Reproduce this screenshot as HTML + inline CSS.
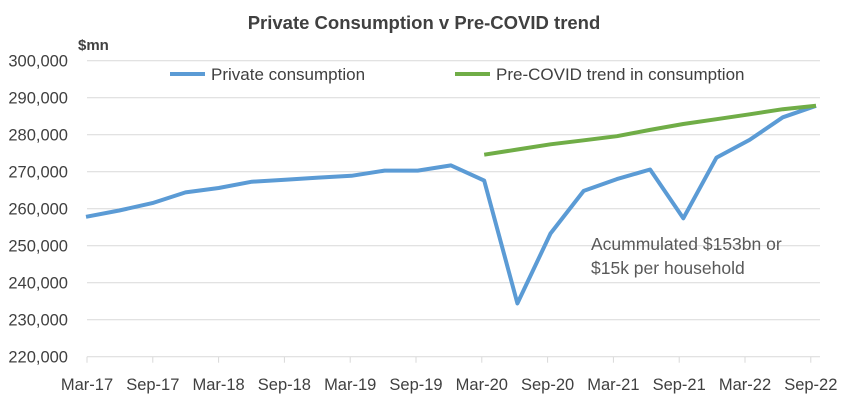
<!DOCTYPE html>
<html><head><meta charset="utf-8"><style>
body{margin:0;background:#fff;}
svg{display:block;font-family:"Liberation Sans",sans-serif;}
</style></head><body>
<svg id="chart" width="844" height="403">
<text x="424" y="29" text-anchor="middle" font-size="18.5" font-weight="bold" fill="#404040">Private Consumption v Pre-COVID trend</text>
<text x="78" y="50" font-size="15" font-weight="bold" fill="#404040">$mn</text>
<g id="grid"></g><g id="yticks"></g><g id="xticks"></g><g id="series"></g>
<g>
<line x1="170" y1="74" x2="205" y2="74" stroke="#5b9bd5" stroke-width="4"/>
<text x="211" y="80" font-size="17" fill="#404040">Private consumption</text>
<line x1="455" y1="74" x2="490" y2="74" stroke="#70ad47" stroke-width="4"/>
<text x="496" y="80" font-size="17" fill="#404040">Pre-COVID trend in consumption</text>
</g>
<text x="591" y="250" font-size="17.5" fill="#595959">Acummulated $153bn or</text>
<text x="591" y="274" font-size="17.5" fill="#595959">$15k per household</text>
</svg>
<script>
const quarters=["Mar-17","Jun-17","Sep-17","Dec-17","Mar-18","Jun-18","Sep-18","Dec-18","Mar-19","Jun-19","Sep-19","Dec-19","Mar-20","Jun-20","Sep-20","Dec-20","Mar-21","Jun-21","Sep-21","Dec-21","Mar-22","Jun-22","Sep-22"];
const privateConsumption=[257800,259500,261500,264400,265600,267300,267800,268400,268900,270300,270300,271700,267600,234400,253300,264800,268000,270600,257400,273800,278600,284700,287800];
const preCovidTrend=[null,null,null,null,null,null,null,null,null,null,null,null,274600,276000,277400,278500,279600,281300,282900,284200,285500,286900,287800];
const xLabels=["Mar-17","Sep-17","Mar-18","Sep-18","Mar-19","Sep-19","Mar-20","Sep-20","Mar-21","Sep-21","Mar-22","Sep-22"];
const yTicks=[220000,230000,240000,250000,260000,270000,280000,290000,300000];
const NS="http://www.w3.org/2000/svg";
function y(v){return 356.7-(v-220000)/10000*37;}
function x(i){return 86+i*(730/22);}
function tx(j){return 87+j*65.8;}
function mk(t,p,a){const e=document.createElementNS(NS,t);for(const k in a)e.setAttribute(k,a[k]);p.appendChild(e);return e;}
const grid=document.getElementById('grid'),yt=document.getElementById('yticks'),xt=document.getElementById('xticks'),se=document.getElementById('series');
yTicks.forEach(v=>{
  if(v>220000){const l=mk('line',grid,{x1:87,x2:820,y1:y(v),y2:y(v),stroke:'#d9d9d9','stroke-width':1});
  
  }
  const t=mk('text',yt,{x:68,y:y(v)+6,'text-anchor':'end','font-size':16.5,fill:'#404040'});
  t.textContent=v.toLocaleString('en-US');
  
  
});
const ax=mk('line',xt,{x1:87,x2:820,y1:y(220000),y2:y(220000),stroke:'#d9d9d9','stroke-width':1});


xLabels.forEach((s,j)=>{
  const m=mk('line',xt,{x1:tx(j),x2:tx(j),y1:y(220000),y2:y(220000)+6,stroke:'#d9d9d9'});
  
  
  const t=mk('text',xt,{x:tx(j),y:390,'text-anchor':'middle','font-size':16.5,fill:'#404040'});
  t.textContent=s;
  
  
});
function path(arr){let d='';arr.forEach((v,i)=>{if(v==null)return;d+=(d?'L':'M')+x(i).toFixed(1)+','+y(v).toFixed(1);});return d;}
const p1=mk('path',se,{d:path(privateConsumption),fill:'none',stroke:'#5b9bd5','stroke-width':4,'stroke-linejoin':'round'});


const p2=mk('path',se,{d:path(preCovidTrend),fill:'none',stroke:'#70ad47','stroke-width':4,'stroke-linejoin':'round'});


</script>
</body></html>
